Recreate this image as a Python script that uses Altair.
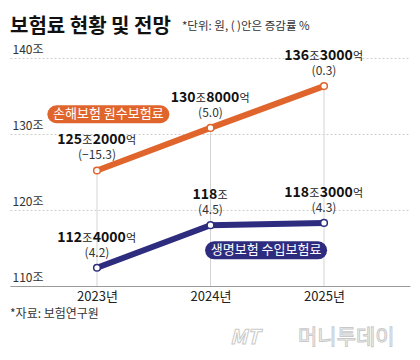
import re
import altair as alt
import pandas as pd

# ---------------- data ----------------
years = [2023, 2024, 2025]
series_names = ["손해보험 원수보험료", "생명보험 수입보험료"]
nonlife = [125.2, 130.8, 136.3]
nonlife_text = ["125조2000억", "130조8000억", "136조3000억"]
nonlife_chg = ["(−15.3)", "(5.0)", "(0.3)"]
life = [112.4, 118.0, 118.3]
life_text = ["112조4000억", "118조", "118조3000억"]
life_chg = ["(4.2)", "(4.5)", "(4.3)"]
y_ticks = [110, 120, 130, 140]
colors = ["#E0652C", "#2D2C7E"]

title_text = "보험료 현황 및 전망"
unit_text = "*단위: 원, ( )안은 증감률 %"
source_text = "*자료: 보험연구원"

# ---------------- layout ----------------
FONT = "Noto Sans CJK KR"
W, H = 400, 228
PXY = 113.5                      # pixels per year on the x scale
X0 = 2023 - 87 / PXY
X1 = X0 + W / PXY
xs = alt.Scale(domain=[X0, X1], nice=False, zero=False)
ys = alt.Scale(domain=[y_ticks[0], y_ticks[-1]], nice=False, zero=False)
cs = alt.Scale(domain=series_names, range=colors)

XAX = alt.Axis(
    values=years, labelExpr="datum.value + '년'", ticks=False, grid=False,
    domainColor="#9a9a9a", labelFont=FONT, labelFontSize=13, labelColor="#222",
    labelPadding=4, title=None)
YAX = alt.Axis(
    values=y_ticks, labelExpr="datum.value + '조'", ticks=False, domain=False,
    grid=True, gridColor="#cfcfcf", gridDash=[2, 2], labelAlign="left",
    labelBaseline="alphabetic", labelPadding=-2, labelOffset=-5, labelFont=FONT,
    labelFontSize=12, labelColor="#333", title=None)

df = pd.DataFrame({
    "year": years * 2,
    "value": nonlife + life,
    "series": [series_names[0]] * 3 + [series_names[1]] * 3,
    "chg": nonlife_chg + life_chg,
})

rules = pd.DataFrame({"year": years, "top": nonlife, "bottom": [y_ticks[0]] * 3})

# value labels split into bold-number / small-unit segments
BOLD_FS, UNIT_FS = 14, 11
def seg_w(s, bold):
    return len(s) * BOLD_FS * 0.58 if bold else len(s) * UNIT_FS * 1.02

segs = []
for yr, val, lab in zip(years * 2, nonlife + life, nonlife_text + life_text):
    parts = re.findall(r"\d+|\D+", lab)
    ws = [seg_w(p, p.isdigit()) for p in parts]
    cur = -sum(ws) / 2
    for p, w in zip(parts, ws):
        segs.append({"x": yr + (cur + w / 2) / PXY, "y": val, "t": p, "bold": p.isdigit()})
        cur += w
segs = pd.DataFrame(segs)

# series name pills (annotation placement)
pill_half = 52 / PXY
pills = pd.DataFrame({
    "series": series_names,
    "xc": [2023.1, 2024.49],
    "yc": [132.6, 114.7],
})
pills["x1"] = pills["xc"] - pill_half
pills["x2"] = pills["xc"] + pill_half

X = lambda f: alt.X(f, type="quantitative", scale=xs, axis=XAX)
Y = lambda f: alt.Y(f, type="quantitative", scale=ys, axis=YAX)

# ---------------- layers ----------------
axes_layer = alt.Chart(rules).mark_rule(color="#d4d4d4", strokeWidth=1).encode(
    x=X("year"), y=Y("top"), y2="bottom:Q",
)

lines = alt.Chart(df).mark_line(strokeWidth=6).encode(
    x=X("year"), y=Y("value"),
    color=alt.Color("series:N", scale=cs, legend=None),
    detail="series:N",
)

points = alt.Chart(df).mark_point(filled=False, fill="white", fillOpacity=1, size=45,
                                  strokeWidth=1.5, opacity=1).encode(
    x=X("year"), y=Y("value"),
    stroke=alt.Stroke("series:N", scale=cs, legend=None),
)

num_bold = alt.Chart(segs).transform_filter("datum.bold").mark_text(
    font=FONT, fontSize=BOLD_FS, fontWeight="bold", color="#111",
    align="center", baseline="alphabetic", dy=-26).encode(
    x=X("x"), y=Y("y"), text="t:N")

num_unit = alt.Chart(segs).transform_filter("!datum.bold").mark_text(
    font=FONT, fontSize=UNIT_FS, color="#222",
    align="center", baseline="alphabetic", dy=-26).encode(
    x=X("x"), y=Y("y"), text="t:N")

chg = alt.Chart(df).mark_text(
    font=FONT, fontSize=12, color="#333", align="center", baseline="alphabetic", dy=-11
).encode(x=X("year"), y=Y("value"), text="chg:N")

pill_bg = alt.Chart(pills).mark_rule(strokeWidth=18, strokeCap="round").encode(
    x=X("x1"), x2="x2:Q", y=Y("yc"),
    color=alt.Color("series:N", scale=cs, legend=None),
)
pill_txt = alt.Chart(pills).mark_text(
    font=FONT, fontSize=13, color="white", align="center", baseline="middle", dy=0
).encode(x=X("xc"), y=Y("yc"), text="series:N")

def fixed_text(txt, x, y, **kw):
    return alt.Chart(pd.DataFrame({"t": [txt]})).mark_text(
        font=FONT, align="left", baseline="alphabetic", **kw
    ).encode(x=alt.value(x), y=alt.value(y), text="t:N")

title = fixed_text(title_text, 0, -25, fontSize=20, fontWeight="bold", color="#111")
unit = fixed_text(unit_text, 172, -28, fontSize=11.5, color="#333")
source = fixed_text(source_text, 0, 260, fontSize=12, color="#333")
wm1 = fixed_text("MT", 220, 286, fontSize=20, fontStyle="italic", fontWeight="bold",
                 color="white", stroke="#c9c9c9", strokeWidth=1)
wm2 = fixed_text("머니투데이", 288, 286, fontSize=21, color="white",
                 stroke="#c9c9c9", strokeWidth=1)

chart = alt.layer(
    axes_layer, lines, points, num_bold, num_unit, chg, pill_bg, pill_txt,
    title, unit, source, wm1, wm2,
).properties(
    width=W, height=H,
    autosize=alt.AutoSizeParams(type="none"),
    padding={"left": 2, "top": 50, "right": 2, "bottom": 70},
).configure_view(stroke=None)

chart.save("out.html", embed_options={"renderer": "svg", "actions": False})
